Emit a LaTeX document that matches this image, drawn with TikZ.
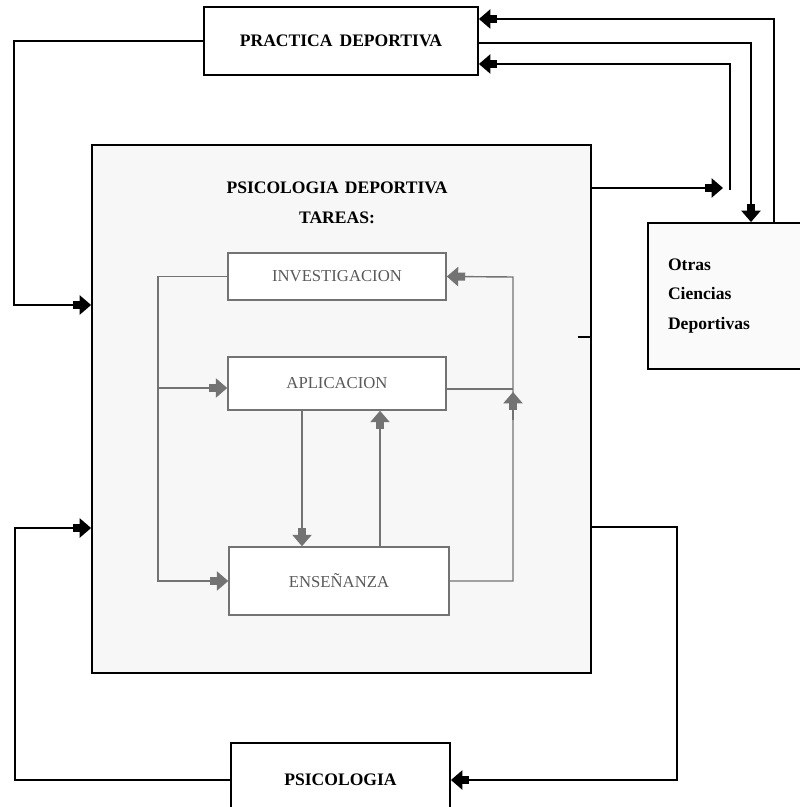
\documentclass[tikz,border=0pt]{standalone}
\usepackage{fontspec}
\setmainfont{Liberation Serif}
\usetikzlibrary{arrows.meta}
\definecolor{boxgray}{gray}{0.45}
\definecolor{txtgray}{gray}{0.35}
\begin{document}
\begin{tikzpicture}[x=0.02cm,y=-0.02cm,
    outbox/.style={draw=black,line width=1.1pt,inner sep=0pt},
    inbox/.style={draw=boxgray,line width=0.9pt,fill=white,text=txtgray,inner sep=0pt,font=\fontsize{9.5}{11}\selectfont},
    lbl/.style={font=\fontsize{10}{17}\selectfont\bfseries},
    blk/.style={line width=0.8pt,-{Rectangle[length=4pt,width=4.5pt,sep=0pt]Triangle[length=6.5pt,width=11pt]}},
    gry/.style={draw=boxgray,line width=0.8pt,-{Rectangle[length=4pt,width=4.5pt,sep=0pt,fill=boxgray]Triangle[length=6.5pt,width=11pt,fill=boxgray]}}]
    \useasboundingbox (0,0) rectangle (799,807);
    % main block
    \node[outbox,fill=black!3,minimum width=9.98cm,minimum height=10.56cm] (psidep) at (341.5,409) {};
    \node[lbl,align=center] (titulo) at (337,203) {PSICOLOGIA\hspace{0.35em}DEPORTIVA\\TAREAS:};
    \node[outbox,lbl,fill=white,minimum width=5.48cm,minimum height=1.36cm] (practica) at (341,41) {PRACTICA\hspace{0.4em}DEPORTIVA};
    \node[outbox,lbl,fill=black!2,minimum width=3.24cm,minimum height=2.92cm,text width=2.44cm,inner xsep=0.4cm,align=left] (otras) at (729,296) {Otras\\Ciencias\\Deportivas};
    \node[outbox,lbl,fill=white,minimum width=4.38cm,minimum height=1.48cm] (psi) at (340.5,780) {PSICOLOGIA};
    % tareas
    \node[inbox,minimum width=4.36cm,minimum height=0.94cm] (inv) at (337,276.5) {INVESTIGACION};
    \node[inbox,minimum width=4.36cm,minimum height=1.06cm] (apl) at (337,383.5) {APLICACION};
    \node[inbox,minimum width=4.4cm,minimum height=1.36cm] (ens) at (339,581) {ENSEÑANZA};
    % outer loops
    \draw[blk] (practica.west) -| (14,305) -- (14,305 -| psidep.west);
    \draw[blk] (psi.west) -| (15,528) -- (15,528 -| psidep.west);
    \draw[blk] (psidep.east |- 0,188) -- (723,188);
    \draw[blk] (730,190) |- (practica.east |- 0,64);
    \draw[blk] (practica.east |- 0,43) -| (otras.north -| 751,0);
    \draw[blk] (otras.north -| 774,0) |- (practica.east |- 0,19);
    \draw[blk] (psidep.east |- 0,527) -| (677,780) -- (psi.east);
    \draw[blk,-] (psidep.east |- 0,337) -- ++(-14,0);
    % inner loops
    \draw[gry] (inv.west) -| (158,581) -- (ens.west);
    \draw[gry] (158,388) -- (158,388 -| apl.west);
    \draw[gry] (apl.south -| 302,0) -- (ens.north -| 302,0);
    \draw[gry] (ens.north -| 380,0) -- (apl.south -| 380,0);
    \draw[gry] (ens.east) -| (513,277) -- (inv.east);
    \draw[gry,-] (apl.east |- 0,389) -- (513,389);
    \draw[gry] (513,420) -- (513,392);
\end{tikzpicture}
\end{document}
